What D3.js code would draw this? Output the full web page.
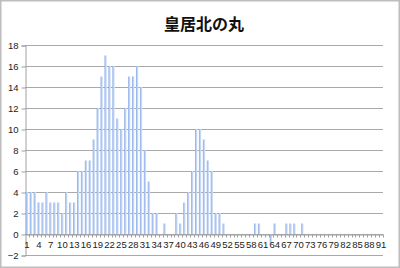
<!DOCTYPE html>
<html>
<head>
<meta charset="utf-8">
<script src="https://cdn.jsdelivr.net/npm/d3@7"></script>
<style>
  body { margin: 0; background: #fff; }
  svg { display: block; }
</style>
</head>
<body>
<div id="chart"></div>
<script>
// data
var title = "皇居北の丸";
var categories = d3.range(1, 92);
var counts = [4, 4, 4, 3, 3, 4, 3, 3, 3, 2,
              4, 3, 3, 6, 6, 7, 7, 9, 12, 15,
              17, 16, 16, 11, 10, 12, 15, 15, 16, 14,
              8, 5, 2, 2, 0, 1, 0, 0, 2, 1,
              3, 4, 6, 10, 10, 9, 7, 6, 2, 2,
              1, 0, 0, 0, 0, 0, 0, 0, 1, 1,
              0, 0, -1, 1, 0, 0, 1, 1, 1, 0,
              1, 0, 0, 0, 0, 0, 0, 0, 0, 0,
              0, 0, 0, 0, 0, 0, 0, 0, 0, 0, 0];
var yTicks = [-2, 0, 2, 4, 6, 8, 10, 12, 14, 16, 18];
var xLabels = categories.filter(function(d) { return (d - 1) % 3 === 0; });

var svgWidth = 400;
var svgHeight = 268;
var plotLeft = 25, plotRight = 383, plotTop = 45, plotBottom = 255;

var svg = d3.select('#chart').append('svg')
    .attr('width', svgWidth)
    .attr('height', svgHeight);

// bar gradient
var grad = svg.append('defs').append('linearGradient')
    .attr('id', 'barGrad')
    .attr('x1', '0%').attr('x2', '100%')
    .attr('y1', '0%').attr('y2', '0%');
grad.append('stop').attr('offset', '0%').attr('stop-color', '#86a8e6');
grad.append('stop').attr('offset', '55%').attr('stop-color', '#bcd0f3');
grad.append('stop').attr('offset', '100%').attr('stop-color', '#d9e5f9');

// outer frame
svg.append('rect')
    .attr('x', 0.75).attr('y', 0.75)
    .attr('width', svgWidth - 1.5).attr('height', svgHeight - 1.5)
    .attr('fill', 'none')
    .attr('stroke', '#bdbdbd')
    .attr('stroke-width', 1.5);

svg.append('text')
    .attr('x', 204)
    .attr('y', 30)
    .attr('text-anchor', 'middle')
    .style('font-family', '"Noto Sans CJK JP", sans-serif')
    .style('font-weight', 'bold')
    .style('font-size', '16px')
    .attr('fill', '#111')
    .text(title);

var x = d3.scaleBand()
    .domain(categories)
    .range([plotLeft, plotRight])
    .paddingInner(0.42)
    .paddingOuter(0.21);

var y = d3.scaleLinear()
    .domain([-2, 18])
    .range([plotBottom, plotTop]);

// gridlines
svg.append('g')
    .selectAll('line')
    .data(yTicks)
    .enter()
    .append('line')
    .attr('x1', plotLeft)
    .attr('x2', plotRight)
    .attr('y1', function(d) { return Math.round(y(d)) + 0.5; })
    .attr('y2', function(d) { return Math.round(y(d)) + 0.5; })
    .attr('stroke', '#a9a9a9')
    .attr('stroke-width', 1);

// y axis
var yAxis = svg.append('g')
    .attr('transform', 'translate(' + (plotLeft + 0.5) + ',0.5)')
    .call(d3.axisLeft(y).tickValues(yTicks).tickSize(4).tickPadding(3));
yAxis.select('.domain').attr('stroke', '#a0a0a0');
yAxis.selectAll('.tick line').attr('stroke', '#a0a0a0');
yAxis.selectAll('.tick text')
    .style('font-family', '"Liberation Sans", Arial, sans-serif')
    .style('font-size', '9.5px')
    .attr('fill', '#222');

// bars
svg.append('g')
    .selectAll('rect')
    .data(counts)
    .enter()
    .append('rect')
    .attr('x', function(d, i) { return x(categories[i]); })
    .attr('width', x.bandwidth())
    .attr('y', function(d) { return y(Math.max(d, 0)); })
    .attr('height', function(d) { return Math.abs(y(d) - y(0)); })
    .attr('fill', 'url(#barGrad)');

// x axis at zero
var xAxis = svg.append('g')
    .attr('transform', 'translate(0,' + (Math.round(y(0)) + 0.5) + ')')
    .call(d3.axisBottom(x).tickSize(0).tickPadding(7)
        .tickFormat(function(d) { return xLabels.indexOf(d) >= 0 ? d : ''; }));
xAxis.select('.domain').attr('stroke', '#a0a0a0');
xAxis.selectAll('.tick text')
    .style('font-family', '"Liberation Sans", Arial, sans-serif')
    .style('font-size', '9.5px')
    .attr('fill', '#222');

// small ticks between categories
var step = x.step();
xAxis.append('g')
    .selectAll('line')
    .data(categories)
    .enter()
    .append('line')
    .attr('x1', function(d) { return Math.round(x(d) - x.paddingOuter() * step + step) + 0.5; })
    .attr('x2', function(d) { return Math.round(x(d) - x.paddingOuter() * step + step) + 0.5; })
    .attr('y1', 0)
    .attr('y2', 3)
    .attr('stroke', '#a0a0a0');
</script>
</body>
</html>
